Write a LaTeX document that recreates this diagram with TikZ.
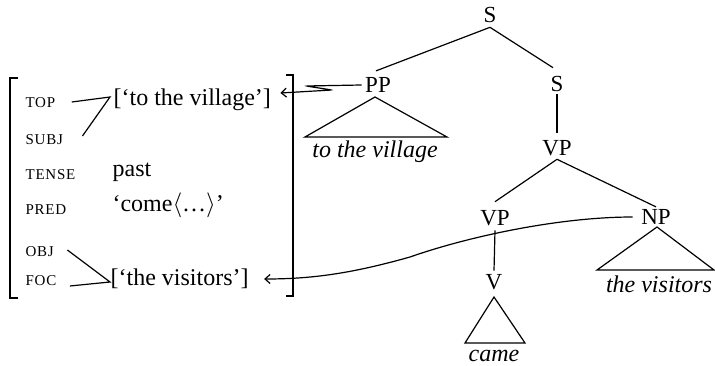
\documentclass[tikz,border=0pt]{standalone}
\usepackage{fontspec}
\setmainfont{Liberation Serif}
\newfontfamily\lblfont[LetterSpace=5]{Liberation Serif}
\usetikzlibrary{arrows.meta}
\begin{document}
\begin{tikzpicture}[x=1pt,y=-1pt,
  line width=1.2pt,
  cat/.style={inner sep=0pt,font=\fontsize{23}{25}\selectfont},
  attr/.style={anchor=west,inner sep=0pt,font=\lblfont\fontsize{15}{17}\selectfont},
  val/.style={anchor=west,inner sep=0pt,font=\fontsize{24}{26}\selectfont},
  yield/.style={inner sep=0pt,font=\itshape\fontsize{24}{26}\selectfont},
  bracket/.style={line width=1.7pt},
  tip/.style={-{Straight Barb[length=5pt,width=9pt]}}]
\useasboundingbox (0,0) rectangle (715,366);

% tree nodes
\node[cat] (S) at (490,15) {S};
\node[cat] (PP) at (378,85) {PP};
\node[cat] (S2) at (557,84) {S};
\node[cat] (VP) at (557,148) {VP};
\node[cat] (VP2) at (495,218) {VP};
\node[cat] (NP) at (656,217) {NP};
\node[cat] (V) at (494,282) {V};
\node[yield] (ytv) at (375,152) {to the village};
\node[yield] (yvis) at (659,284) {the visitors};
\node[yield] (ycame) at (494,356) {came};

% tree edges
\draw ([yshift=-4pt]S.south) -- ([xshift=-2pt,yshift=6pt]PP.north);
\draw ([yshift=-4pt]S.south) -- ([xshift=-4pt,yshift=8pt]S2.north);
\draw ([yshift=-2pt]S2.south) -- ([yshift=7pt]VP.north);
\draw ([yshift=-3pt]VP.south) -- ([yshift=8pt]VP2.north);
\draw ([yshift=-3pt]VP.south) -- ([yshift=2pt]NP.north);
\draw ([yshift=-4pt]VP2.south) -- ([yshift=3pt]V.north);

% triangles
\draw (375,97) -- (305,137) -- (447,137) -- cycle;
\draw (657,227) -- (597,270) -- (714,270) -- cycle;
\draw (494,297) -- (465,343) -- (525,343) -- cycle;

% f-structure
\node[attr] (top) at (25,103) {TOP};
\node[attr] (subj) at (25,140) {SUBJ};
\node[attr] (tense) at (25,175) {TENSE};
\node[attr] (pred) at (25,210) {PRED};
\node[attr] (obj) at (25,252) {OBJ};
\node[attr] (foc) at (25,281) {FOC};
\node[val] (vil) at (113,100) {[‘to the village’]};
\node[val] (past) at (112,172) {past};
\node[val] (come) at (112,205) {‘come$\langle$…$\rangle$’};
\node[val] (vis) at (110,279) {[‘the visitors’]};

\draw ([xshift=16pt,yshift=1pt]top.east) -- ([xshift=-3pt,yshift=3pt]vil.west)
      -- ([xshift=19pt,yshift=4pt]subj.east);
\draw ([xshift=13pt,yshift=2pt]obj.east) -- ([yshift=-3pt]vis.west)
      -- ([xshift=13pt,yshift=-5pt]foc.east);

\draw[bracket] (18,78) -- (10,78) -- (10,298) -- (18,298);
\draw[bracket] (286,75) -- (293,75) -- (293,296) -- (286,296);

% correspondence arrows
\draw[tip, rounded corners=2pt] ([xshift=-3pt]PP.west) -- (306,86) -- (332,90)
      -- ([xshift=9pt,yshift=7pt]vil.east);
\draw[tip] ([xshift=-8pt]NP.west) .. controls (560,217) and (470,236) .. (410,257)
      .. controls (350,274) and (310,279) .. ([xshift=15pt]vis.east);
\end{tikzpicture}
\end{document}
